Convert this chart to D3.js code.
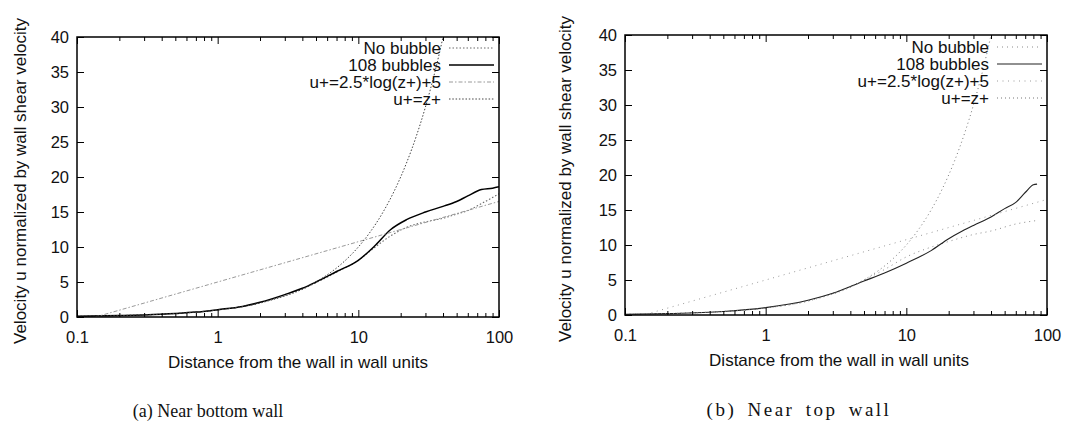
<!DOCTYPE html>
<html>
<head>
<meta charset="utf-8">
<script src="https://cdn.jsdelivr.net/npm/d3@7"></script>
<style>
  html, body { margin: 0; padding: 0; background: #fff; }
  svg { display: block; }
  .tick-label { font-family: "Liberation Sans", Arial, sans-serif; font-size: 16.5px; fill: #111; }
  .axis-title { font-family: "Liberation Sans", Arial, sans-serif; font-size: 17px; fill: #111; }
  .legend-label { font-family: "Liberation Sans", Arial, sans-serif; font-size: 17px; fill: #111; }
  .caption { font-family: "Liberation Serif", "DejaVu Serif", serif; fill: #111; }
</style>
</head>
<body>
<svg id="chart" width="1083" height="431"></svg>
<script>
// Axis ticks
const xTicks = [0.1, 1, 10, 100];
const yTicks = [0, 5, 10, 15, 20, 25, 30, 35, 40];
const legendLabels = ["No bubble", "108 bubbles", "u+=2.5*log(z+)+5", "u+=z+"];
const xTitle = "Distance from the wall in wall units";
const yTitle = "Velocity u normalized by wall shear velocity";
const captions = ["(a) Near bottom wall", "(b) Near top wall"];

// Reference laws (z+, u+)
const logLawZ = [0.1, 1, 10, 100];
const logLawU = [-0.76, 5.0, 10.76, 16.51];
const linearZ = [0.1, 0.2, 0.5, 1, 2, 5, 8, 10, 12, 15, 18, 22, 26, 30, 35, 40, 45];
const linearU = [0.1, 0.2, 0.5, 1, 2, 5, 8, 10, 12, 15, 18, 22, 26, 30, 35, 40, 45];

// Near bottom wall profiles
const bottomNoBubbleZ = [0.1, 0.2, 0.3, 0.5, 0.7, 1, 1.5, 2, 3, 4, 5, 7, 10, 13, 17, 22, 30, 40, 50, 60, 75, 100];
const bottomNoBubbleU = [0.1, 0.2, 0.3, 0.5, 0.7, 1.0, 1.5, 2.0, 3.1, 4.0, 4.9, 6.4, 8.1, 9.9, 11.6, 12.8, 13.6, 14.1, 14.7, 15.2, 16.2, 17.6];
const bottomBubblesZ = [0.1, 0.2, 0.3, 0.5, 0.7, 1, 1.5, 2, 3, 4, 5, 7, 10, 13, 17, 22, 30, 40, 50, 60, 75, 90, 100];
const bottomBubblesU = [0.1, 0.2, 0.3, 0.5, 0.7, 1.05, 1.5, 2.1, 3.2, 4.1, 5.0, 6.5, 8.1, 10.1, 12.5, 13.9, 15.0, 15.8, 16.5, 17.3, 18.2, 18.4, 18.6];

// Near top wall profiles
const topNoBubbleZ = [0.1, 0.2, 0.5, 1, 2, 3, 5, 7, 10, 15, 20, 30, 40, 60, 85];
const topNoBubbleU = [0.1, 0.2, 0.5, 1.0, 2.0, 3.1, 5.0, 6.5, 8.3, 9.7, 10.5, 11.5, 12.0, 13.0, 13.5];
const topBubblesZ = [0.1, 0.2, 0.5, 1, 2, 3, 5, 7, 10, 15, 20, 25, 30, 40, 50, 60, 70, 80, 85];
const topBubblesU = [0.1, 0.2, 0.5, 1.05, 2.1, 3.1, 4.85, 6.0, 7.4, 9.2, 10.9, 12.0, 12.8, 14.0, 15.2, 16.1, 17.5, 18.6, 18.7];

const zip = (zs, us) => zs.map((z, i) => ({ z, u: us[i] }));

const panels = [
  {
    id: "a", left: 77, right: 499, top: 37, bottom: 317,
    caption: captions[0], captionX: 208, captionY: 417, captionSize: 18, captionSpacing: 0, captionWord: 0,
    yTitleX: 20, yTitleY: 181, xTitleX: 298, legendTop: 11, legendStep: 17,
    series: [
      { data: zip(bottomNoBubbleZ, bottomNoBubbleU), stroke: "#6a6a6a", width: 1.1, dash: "1.5,2" },
      { data: zip(bottomBubblesZ, bottomBubblesU), stroke: "#000", width: 1.5, dash: null },
      { data: zip(logLawZ, logLawU), stroke: "#9a9a9a", width: 1.0, dash: "4,2,1.5,2" },
      { data: zip(linearZ, linearU), stroke: "#444", width: 1.0, dash: "1.5,1.8" }
    ]
  },
  {
    id: "b", left: 625, right: 1047, top: 35, bottom: 315,
    caption: captions[1], captionX: 799, captionY: 416, captionSize: 19, captionSpacing: 2.5, captionWord: 4,
    yTitleX: 565, yTitleY: 179, xTitleX: 839, legendTop: 12, legendStep: 17,
    series: [
      { data: zip(topNoBubbleZ, topNoBubbleU), stroke: "#8a8a8a", width: 1.0, dash: "1,4" },
      { data: zip(topBubblesZ, topBubblesU), stroke: "#222", width: 1.1, dash: null },
      { data: zip(logLawZ, logLawU), stroke: "#9a9a9a", width: 1.0, dash: "1,4.5" },
      { data: zip(linearZ, linearU), stroke: "#777", width: 1.0, dash: "1,3" }
    ]
  }
];

const svg = d3.select("#chart");

panels.forEach(p => {
  const x = d3.scaleLog().domain([0.1, 100]).range([p.left, p.right]);
  const y = d3.scaleLinear().domain([0, 40]).range([p.bottom, p.top]);
  const g = svg.append("g");

  // clip region for the curves
  const clipId = "clip-" + p.id;
  svg.append("clipPath").attr("id", clipId)
    .append("rect")
    .attr("x", p.left).attr("y", p.top)
    .attr("width", p.right - p.left).attr("height", p.bottom - p.top);

  const line = d3.line()
    .x(d => x(d.z))
    .y(d => y(d.u))
    .curve(d3.curveMonotoneX);

  const curves = g.append("g").attr("clip-path", `url(#${clipId})`);
  p.series.forEach(s => {
    curves.append("path")
      .datum(s.data)
      .attr("d", line)
      .attr("fill", "none")
      .attr("stroke", s.stroke)
      .attr("stroke-width", s.width)
      .attr("stroke-dasharray", s.dash);
  });

  // inward ticks on all four sides (gnuplot style)
  const minorX = [];
  [0.1, 1, 10].forEach(d => { for (let k = 2; k <= 9; k++) minorX.push(d * k); });

  const axBottom = d3.axisBottom(x).tickValues(xTicks).tickSize(-7).tickFormat(d => d3.format("~g")(d)).tickPadding(14);
  const axTop = d3.axisTop(x).tickValues(xTicks).tickSize(-7).tickFormat("");
  const axLeft = d3.axisLeft(y).tickValues(yTicks).tickSize(-7).tickPadding(8);
  const axRight = d3.axisRight(y).tickValues(yTicks).tickSize(-7).tickFormat("");
  const axBottomMinor = d3.axisBottom(x).tickValues(minorX).tickSize(-4).tickFormat("");
  const axTopMinor = d3.axisTop(x).tickValues(minorX).tickSize(-4).tickFormat("");

  const axes = [
    g.append("g").attr("transform", `translate(0,${p.bottom})`).call(axBottom),
    g.append("g").attr("transform", `translate(0,${p.top})`).call(axTop),
    g.append("g").attr("transform", `translate(${p.left},0)`).call(axLeft),
    g.append("g").attr("transform", `translate(${p.right},0)`).call(axRight),
    g.append("g").attr("transform", `translate(0,${p.bottom})`).call(axBottomMinor),
    g.append("g").attr("transform", `translate(0,${p.top})`).call(axTopMinor)
  ];

  axes.forEach(a => {
    a.select(".domain").remove();
    a.selectAll(".tick line").attr("stroke", "#000").attr("stroke-width", 1);
    a.selectAll(".tick text").attr("class", "tick-label").attr("font-size", null).attr("font-family", null);
    a.attr("font-size", null).attr("font-family", null);
  });

  // frame
  g.append("rect")
    .attr("x", p.left).attr("y", p.top)
    .attr("width", p.right - p.left).attr("height", p.bottom - p.top)
    .attr("fill", "none").attr("stroke", "#000").attr("stroke-width", 1.5);

  // legend, upper right inside the frame
  const legendTextX = p.right - 58;
  legendLabels.forEach((lab, i) => {
    const ly = p.top + p.legendTop + i * p.legendStep;
    g.append("text").attr("class", "legend-label")
      .attr("x", legendTextX).attr("y", ly + 6)
      .attr("text-anchor", "end").text(lab);
    const s = p.series[i];
    g.append("line")
      .attr("x1", p.right - 50).attr("x2", p.right - 5)
      .attr("y1", ly).attr("y2", ly)
      .attr("stroke", s.stroke).attr("stroke-width", s.width)
      .attr("stroke-dasharray", s.dash);
  });

  // axis titles
  g.append("text").attr("class", "axis-title")
    .attr("x", p.xTitleX).attr("y", p.bottom + 51)
    .attr("text-anchor", "middle").text(xTitle);
  g.append("text").attr("class", "axis-title")
    .attr("transform", `translate(${p.yTitleX},${p.yTitleY}) rotate(-90)`)
    .attr("dy", "0.35em")
    .attr("text-anchor", "middle").text(yTitle);

  // caption
  g.append("text").attr("class", "caption")
    .attr("x", p.captionX).attr("y", p.captionY)
    .attr("text-anchor", "middle")
    .attr("font-size", p.captionSize)
    .attr("letter-spacing", p.captionSpacing)
    .attr("word-spacing", p.captionWord)
    .text(p.caption);
});
</script>
</body>
</html>
